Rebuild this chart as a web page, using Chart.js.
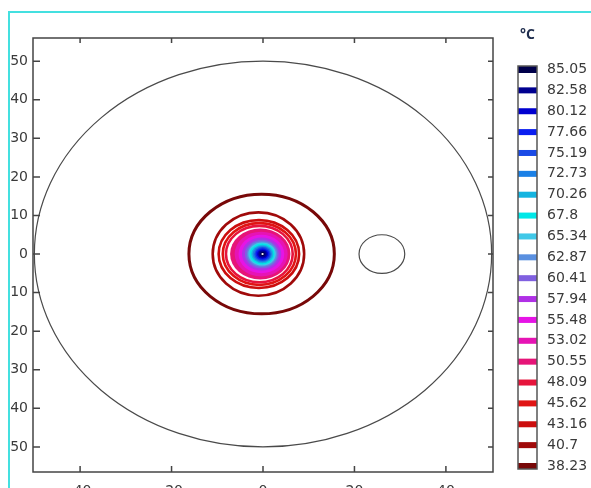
<!DOCTYPE html>
<html>
<head>
<meta charset="utf-8">
<script src="https://cdn.jsdelivr.net/npm/chart.js@4.4.1/dist/chart.umd.min.js"></script>
<style>
  body { margin: 0; background: #fff; }
  #wrap { position: relative; width: 591px; height: 488px; overflow: hidden; }
  #frame { position: absolute; left: 8px; top: 11px; width: 600px; height: 500px;
           border-left: 2px solid #44e0e0; border-top: 2px solid #44e0e0; }
  #plot { position: absolute; left: 0; top: 0; }
</style>
</head>
<body>
<div id="wrap">
  <div id="frame"></div>
  <canvas id="plot" width="591" height="488"></canvas>
</div>
<script>
// contour levels (°C), outermost last
const levels = [85.05, 82.58, 80.12, 77.66, 75.19, 72.73, 70.26, 67.8, 65.34, 62.87,
                60.41, 57.94, 55.48, 53.02, 50.55, 48.09, 45.62, 43.16, 40.7, 38.23];
const levelColors = ['#00004a', '#000090', '#0000d0', '#0a1ef0', '#1a4ae6', '#1a80e6', '#14b4e0', '#00e8e8',
                     '#40c8e8', '#5a90e0', '#8060e0', '#b030e6', '#e614e6', '#e614b4', '#e61478', '#e6143c',
                     '#e01414', '#cc0e0e', '#a00a0a', '#780808'];
// contour extents (data units)
const contourCx = [-0.1, -0.1, -0.1, -0.1, -0.1, -0.15, -0.15, -0.2, -0.2, -0.2,
                   -0.25, -0.3, -0.35, -0.4, -0.6, -0.8, -0.8, -0.9, -1.0, -0.3];
const contourRx = [0.5, 0.9, 1.2, 1.5, 1.8, 2.1, 2.4, 2.7, 3.0, 3.3,
                   3.7, 4.3, 5.0, 5.8, 6.6, 7.3, 8.0, 8.8, 10.0, 15.9];
const contourRy = [0.5, 0.9, 1.2, 1.5, 1.8, 2.1, 2.4, 2.7, 3.0, 3.3,
                   3.7, 4.3, 5.0, 5.8, 6.6, 7.3, 8.0, 8.8, 10.8, 15.5];
// geometry outlines: domain and small hole
const outlineCx = [0, 26];
const outlineR = [50, 5];

const xTicks = [-40, -20, 0, 20, 40];

const contourPlugin = {
    id: 'contours',
    afterDatasetsDraw(chart) {
        const ctx = chart.ctx;
        const xs = chart.scales.x, ys = chart.scales.y;
        const area = chart.chartArea;
        const ell = (cx, cy, rx, ry) => {
            const px = xs.getPixelForValue(cx), py = ys.getPixelForValue(cy);
            const prx = Math.abs(xs.getPixelForValue(cx + rx) - px);
            const pry = Math.abs(ys.getPixelForValue(cy + ry) - py);
            ctx.beginPath();
            ctx.ellipse(px, py, prx, pry, 0, 0, Math.PI * 2);
        };
        ctx.save();
        ctx.beginPath();
        ctx.rect(area.left, area.top, area.right - area.left, area.bottom - area.top);
        ctx.clip();

        // geometry
        ctx.strokeStyle = '#4a4a4a';
        ctx.lineWidth = 1.2;
        outlineCx.forEach((cx, i) => { ell(cx, 0, outlineR[i], outlineR[i]); ctx.stroke(); });

        // contour lines outside, filled bands in the hot core
        for (let i = levels.length - 1; i >= 0; i--) {
            if (levels[i] < 50) {
                ctx.strokeStyle = levelColors[i];
                ctx.lineWidth = i === levels.length - 1 ? 3 : 2.6;
                ell(contourCx[i], 0, contourRx[i], contourRy[i]);
                ctx.stroke();
            } else {
                ctx.fillStyle = levelColors[i];
                ell(contourCx[i], 0, contourRx[i], contourRy[i]);
                ctx.fill();
            }
        }
        ctx.fillStyle = '#ffffff';
        ell(-0.1, 0, 0.25, 0.25);
        ctx.fill();
        ctx.restore();

        // frame and inward ticks
        ctx.save();
        ctx.strokeStyle = '#444';
        ctx.lineWidth = 1.5;
        ctx.strokeRect(area.left, area.top, area.right - area.left, area.bottom - area.top);
        ctx.beginPath();
        xs.ticks.forEach(t => {
            const p = xs.getPixelForValue(t.value);
            ctx.moveTo(p, area.bottom); ctx.lineTo(p, area.bottom - 6);
            ctx.moveTo(p, area.top); ctx.lineTo(p, area.top + 5);
        });
        ys.ticks.forEach(t => {
            const p = ys.getPixelForValue(t.value);
            ctx.moveTo(area.left, p); ctx.lineTo(area.left + 7, p);
            ctx.moveTo(area.right, p); ctx.lineTo(area.right - 5, p);
        });
        ctx.stroke();
        ctx.restore();
    },
    afterDraw(chart) {
        // colour legend on the right
        const ctx = chart.ctx;
        const barL = 518, barW = 19, barT = 66, barB = 469;
        const c0 = 69.5, step = (466 - 69.5) / (levels.length - 1);
        ctx.save();
        ctx.fillStyle = '#fff';
        ctx.fillRect(barL, barT, barW, barB - barT);
        levels.forEach((v, i) => {
            const cy = c0 + i * step;
            ctx.fillStyle = levelColors[i];
            let top = cy - 3, h = 6;
            if (i === 0) { top = barT; h = cy + 3.5 - barT; }
            if (i === levels.length - 1) { top = cy - 3; h = barB - top; }
            ctx.fillRect(barL, top, barW, h);
            ctx.fillStyle = '#3a3a3a';
            ctx.font = '14px "DejaVu Sans"';
            ctx.textAlign = 'left';
            ctx.textBaseline = 'middle';
            ctx.fillText(String(v), 547, cy);
        });
        ctx.strokeStyle = '#555';
        ctx.lineWidth = 1.5;
        ctx.strokeRect(barL, barT, barW, barB - barT);
        ctx.fillStyle = '#1f2d4d';
        ctx.font = 'bold 14px "Open Sans"';
        ctx.textAlign = 'left';
        ctx.textBaseline = 'middle';
        ctx.fillText('°C', 520, 35);
        ctx.restore();
    }
};

new Chart(document.getElementById('plot'), {
    type: 'scatter',
    data: { datasets: [] },
    plugins: [contourPlugin],
    options: {
        responsive: false,
        animation: false,
        layout: { padding: { left: 0, top: 38, right: 98, bottom: 0 } },
        plugins: { legend: { display: false }, tooltip: { enabled: false } },
        scales: {
            x: {
                type: 'linear', min: -50.3, max: 50.3,
                afterFit: s => { s.height = 16; },
                afterBuildTicks: s => { s.ticks = xTicks.map(v => ({ value: v })); },
                grid: { display: false, drawTicks: false },
                border: { display: false },
                ticks: { padding: 11, color: '#3a3a3a', font: { family: 'DejaVu Sans', size: 14 } }
            },
            y: {
                type: 'linear', min: -56.5, max: 56,
                afterFit: s => { s.width = 33; },
                grid: { display: false, drawTicks: false },
                border: { display: false },
                ticks: {
                    stepSize: 10, includeBounds: false, padding: 5, color: '#3a3a3a',
                    font: { family: 'DejaVu Sans', size: 14 },
                    callback: v => String(Math.abs(v))
                }
            }
        }
    }
});
</script>
</body>
</html>
